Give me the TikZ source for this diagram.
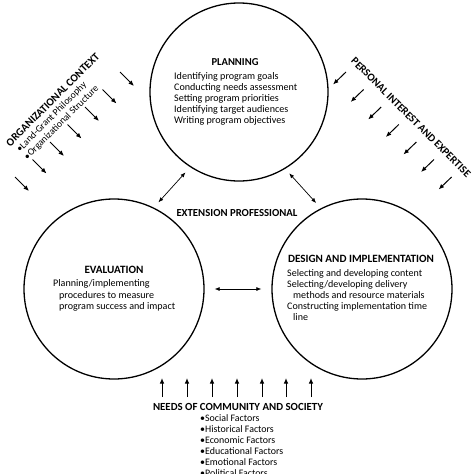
\documentclass[tikz,border=0pt]{standalone}
\usepackage{fontspec}
\setmainfont{Carlito}
\usetikzlibrary{arrows.meta}
\newlength\fitlen
\newcommand\fitfont[3]{\settowidth\fitlen{\fontsize{10}{10}\selectfont#2}\pgfmathsetmacro\fitfs{10*#1/\fitlen}\fontsize{\fitfs}{#3}\selectfont}
\begin{document}
\begin{tikzpicture}[x=1pt,y=-1pt,
  circ/.style={circle,draw,line width=1.3pt,minimum size=180pt,inner sep=0},
  ttl/.style={inner sep=0},
  body/.style={align=left,inner sep=0,anchor=north west},
  dbl/.style={{Latex[length=5pt,width=4pt]}-{Latex[length=5pt,width=4pt]},line width=0.7pt},
  inarrow/.style={-{Latex[length=5.5pt,width=4.5pt]},line width=1pt}]
\useasboundingbox (0,0) rectangle (474,474);
\clip (0,0) rectangle (474,474);
% circles
\node[circ,minimum size=178pt] (plan) at (239,92) {};
\node[circ] (eval) at (114,289) {};
\node[circ] (des) at (362,289) {};
% texts
\node[ttl,font={\fitfont{47}{\bfseries PLANNING}{12}\bfseries}] (plant) at (235,62) {PLANNING};
\node[body,font={\fitfont{123}{Conducting needs assessment}{11}}] (planb) at (174,72.7) {Identifying program goals\\Conducting needs assessment\\Setting program priorities\\Identifying target audiences\\Writing program objectives};
\node[ttl,font={\fitfont{59}{\bfseries EVALUATION}{12}\bfseries}] (evalt) at (114,270) {EVALUATION};
\node[body,font={\fitfont{116}{program success and impact}{11.5}}] (evalb) at (53,279.5) {Planning/implementing\\\hspace*{6pt}procedures to measure\\\hspace*{6pt}program success and impact};
\node[ttl,font={\fitfont{146}{\bfseries DESIGN AND IMPLEMENTATION}{12}\bfseries}] (dest) at (361,259) {DESIGN AND IMPLEMENTATION};
\node[body,font={\fitfont{135}{Selecting and developing content}{11}}] (desb) at (287,269.2) {Selecting and developing content\\Selecting/developing delivery\\\hspace*{6pt}methods and resource materials\\Constructing implementation time\\\hspace*{6pt}line};
\node[ttl,font={\fitfont{121}{\bfseries EXTENSION PROFESSIONAL}{12}\bfseries}] (ext) at (237,213.5) {EXTENSION PROFESSIONAL};
\node[ttl,font={\fitfont{170}{\bfseries NEEDS OF COMMUNITY AND SOCIETY}{12}\bfseries}] (needs) at (238,407) {NEEDS OF COMMUNITY AND SOCIETY};
\node[body,font={\fitfont{83}{\textbullet Educational Factors}{11}}] (needsb) at (200,414) {\textbullet Social Factors\\\textbullet Historical Factors\\\textbullet Economic Factors\\\textbullet Educational Factors\\\textbullet Emotional Factors\\\textbullet Political Factors};
\node[rotate=45,font={\fitfont{101}{\textbullet Organizational Structure}{10.8}},align=left,inner sep=0,anchor=north west] (org) at (5,142) {{\fitfont{127}{\bfseries ORGANIZATIONAL CONTEXT}{12}\bfseries ORGANIZATIONAL CONTEXT}\\\hspace*{3pt}\textbullet Land-Grant Philosophy\\\hspace*{3pt}\textbullet Organizational Structure};
\node[rotate=-45,ttl,font={\fitfont{164}{\bfseries PERSONAL INTEREST AND EXPERTISE}{12}\bfseries}] (pers) at (411,117.5) {PERSONAL INTEREST AND EXPERTISE};
% connectors
\draw[dbl,shorten <=7pt,shorten >=7pt] (plan.237) -- (eval.64);
\draw[dbl,shorten <=6pt,shorten >=7pt] (plan.301) -- (des.117);
\draw[dbl,shorten <=10pt,shorten >=10pt] (eval.east) -- (des.west);
% influence arrows
\foreach \x [count=\k] in {162,187,212,237,262,286,311}
  \draw[inarrow] (\x,397) coordinate (b\k) -- (\x,378);
\foreach \i in {0,...,6}
  \draw[inarrow] ({120-17.5*\i},{72+17.5*\i}) coordinate (l\i) -- ++(14,14);
\foreach \i in {0,...,6}
  \draw[inarrow] ({346+17.6*\i},{72+17.5*\i}) coordinate (r\i) -- ++(-13,12.5);
\end{tikzpicture}
\end{document}
